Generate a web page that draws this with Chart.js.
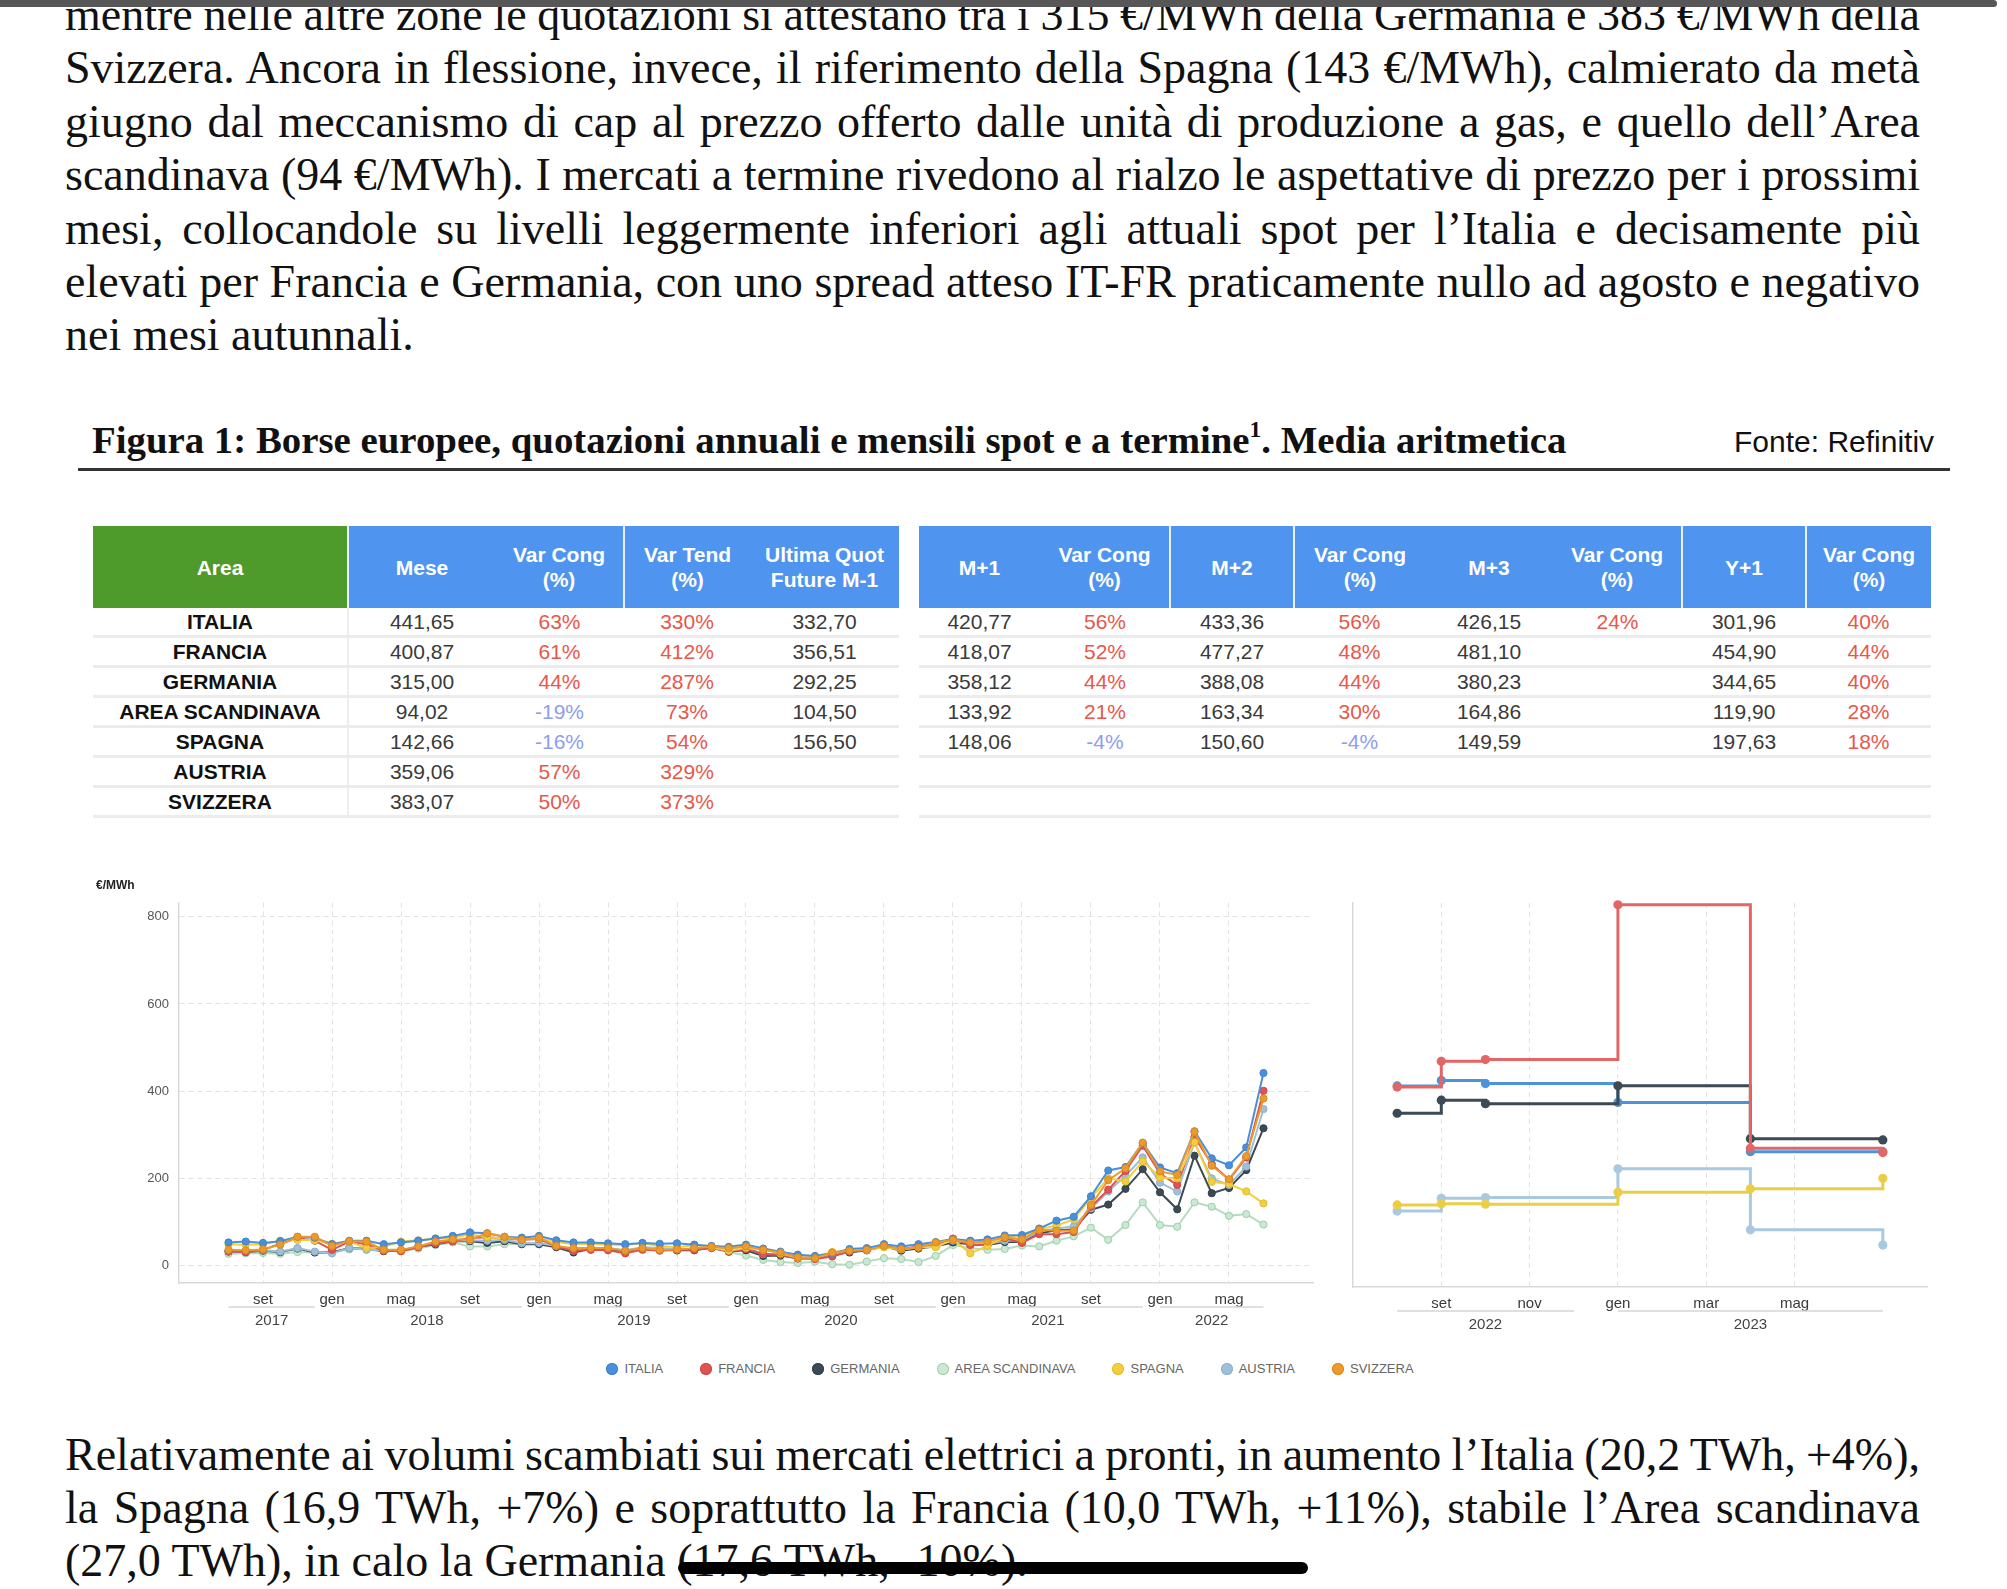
<!DOCTYPE html>
<html lang="it">
<head>
<meta charset="utf-8">
<title>Borse europee, quotazioni spot e a termine</title>
<script src="https://cdn.jsdelivr.net/npm/chart.js@4.4.1/dist/chart.umd.min.js"></script>
<style>
  html, body { margin: 0; padding: 0; background: #fff; }
  body { width: 2007px; height: 1589px; position: relative; overflow: hidden; font-family: "Liberation Sans", Arial, sans-serif; }
  .barra { position: absolute; left: 0; top: 0; width: 1997px; height: 7px; background: #575757; border-radius: 0 4px 4px 0; z-index: 2; }
  .riga { position: absolute; left: 65px; font-family: "Liberation Serif", "Times New Roman", serif; font-size: 46px; line-height: 53px; color: #111; white-space: nowrap; display: inline-block; }
  .titolo { position: absolute; left: 92px; top: 418px; font-family: "Liberation Serif", "Times New Roman", serif; font-weight: bold; font-size: 36px; line-height: 44px; color: #111; white-space: nowrap; }
  .titolo sup { font-size: 0.6em; line-height: 0; vertical-align: 0.7em; }
  .fonte { position: absolute; left: 1734px; top: 425px; font-size: 30px; line-height: 34px; color: #111; white-space: nowrap; letter-spacing: 0; }
  .linea { position: absolute; left: 78px; top: 468px; width: 1872px; height: 3px; background: #333; }
  table.tab { position: absolute; top: 526px; border-collapse: collapse; table-layout: fixed; font-size: 21px; }
  table.tab th { height: 82px; padding: 0; background: #4f94ef; color: #fff; font-weight: bold; line-height: 25px; text-align: center; vertical-align: middle; }
  table.tab th.verde { background: #4e9a2b; }
  table.tab th.sep { border-left: 2px solid #e8f0fb; }
  table.tab td { height: 27px; padding: 0; border-bottom: 3px solid #ececec; text-align: center; color: #3a3a3a; line-height: 27px; }
  table.tab td.area { font-weight: bold; color: #111; border-right: 2px solid #eeeeee; }
  .pos { color: #e8574a !important; }
  .neg { color: #8f9df0 !important; }
  canvas { position: absolute; }
  #legenda { position: absolute; top: 1359px; left: 0; width: 2020px; display: flex; justify-content: center; gap: 37px; font-size: 13px; color: #666; }
  #legenda span.voce { display: flex; align-items: center; gap: 6px; line-height: 20px; }
  #legenda i { display: inline-block; width: 12px; height: 12px; border-radius: 50%; }
  .nero { position: absolute; left: 678px; top: 1562px; width: 630px; height: 12px; background: #000; border-radius: 6px; }
</style>
</head>
<body>
<div class="barra"></div>
<div id="testo"></div>
<div class="titolo" id="titolo">Figura 1: Borse europee, quotazioni annuali e mensili spot e a termine<sup>1</sup>. Media aritmetica</div>
<div class="fonte">Fonte: Refinitiv</div>
<div class="linea"></div>
<div id="tabelle"></div>
<canvas id="graficoSpot" width="1240" height="470" style="left:90px;top:870px;"></canvas>
<canvas id="graficoTermine" width="595" height="470" style="left:1345px;top:870px;"></canvas>
<div id="legenda"></div>
<div class="nero"></div>

<script>
// testo della pagina
var righeSopra = [
  'mentre nelle altre zone le quotazioni si attestano tra i 315 €/MWh della Germania e 383 €/MWh della',
  'Svizzera. Ancora in flessione, invece, il riferimento della Spagna (143 €/MWh), calmierato da metà',
  'giugno dal meccanismo di cap al prezzo offerto dalle unità di produzione a gas, e quello dell’Area',
  'scandinava (94 €/MWh). I mercati a termine rivedono al rialzo le aspettative di prezzo per i prossimi',
  'mesi, collocandole su livelli leggermente inferiori agli attuali spot per l’Italia e decisamente più',
  'elevati per Francia e Germania, con uno spread atteso IT-FR praticamente nullo ad agosto e negativo',
  'nei mesi autunnali.'
];
var righeSotto = [
  'Relativamente ai volumi scambiati sui mercati elettrici a pronti, in aumento l’Italia (20,2 TWh, +4%),',
  'la Spagna (16,9 TWh, +7%) e soprattutto la Francia (10,0 TWh, +11%), stabile l’Area scandinava',
  '(27,0 TWh), in calo la Germania (17,6 TWh, -10%).'
];

// tabelle
var aree = ['ITALIA', 'FRANCIA', 'GERMANIA', 'AREA SCANDINAVA', 'SPAGNA', 'AUSTRIA', 'SVIZZERA'];
var mese = ['441,65', '400,87', '315,00', '94,02', '142,66', '359,06', '383,07'];
var varCong = ['63%', '61%', '44%', '-19%', '-16%', '57%', '50%'];
var varTend = ['330%', '412%', '287%', '73%', '54%', '329%', '373%'];
var ultimaQuot = ['332,70', '356,51', '292,25', '104,50', '156,50', '', ''];
var m1 = ['420,77', '418,07', '358,12', '133,92', '148,06'];
var m1Var = ['56%', '52%', '44%', '21%', '-4%'];
var m2 = ['433,36', '477,27', '388,08', '163,34', '150,60'];
var m2Var = ['56%', '48%', '44%', '30%', '-4%'];
var m3 = ['426,15', '481,10', '380,23', '164,86', '149,59'];
var m3Var = ['24%', '', '', '', ''];
var y1 = ['301,96', '454,90', '344,65', '119,90', '197,63'];
var y1Var = ['40%', '44%', '40%', '28%', '18%'];

// grafico spot mensile (€/MWh)
var mesiSpot = [
  '2017-07','2017-08','2017-09','2017-10','2017-11','2017-12',
  '2018-01','2018-02','2018-03','2018-04','2018-05','2018-06','2018-07','2018-08','2018-09','2018-10','2018-11','2018-12',
  '2019-01','2019-02','2019-03','2019-04','2019-05','2019-06','2019-07','2019-08','2019-09','2019-10','2019-11','2019-12',
  '2020-01','2020-02','2020-03','2020-04','2020-05','2020-06','2020-07','2020-08','2020-09','2020-10','2020-11','2020-12',
  '2021-01','2021-02','2021-03','2021-04','2021-05','2021-06','2021-07','2021-08','2021-09','2021-10','2021-11','2021-12',
  '2022-01','2022-02','2022-03','2022-04','2022-05','2022-06','2022-07'
];
var spotItalia = [53, 55, 52, 56, 66, 64,
  49, 57, 57, 49, 53, 57, 62, 68, 76, 74, 66, 64,
  68, 58, 53, 53, 51, 49, 52, 50, 51, 48, 45, 43,
  48, 39, 32, 25, 22, 28, 38, 40, 49, 44, 49, 54,
  61, 57, 60, 69, 70, 85, 103, 112, 159, 218, 226, 281,
  225, 212, 308, 246, 230, 271, 441.65];
var spotFrancia = [33, 31, 36, 50, 63, 57,
  36, 55, 49, 34, 33, 42, 51, 56, 63, 65, 62, 59,
  61, 44, 34, 36, 35, 28, 37, 34, 36, 36, 40, 33,
  38, 27, 25, 16, 15, 21, 32, 35, 45, 38, 44, 50,
  62, 47, 47, 63, 52, 72, 72, 77, 135, 174, 217, 275,
  211, 185, 295, 233, 197, 248, 400.87];
var spotGermania = [32, 31, 34, 31, 39, 30,
  30, 40, 38, 33, 34, 43, 49, 56, 56, 52, 56, 49,
  49, 42, 30, 38, 38, 33, 40, 38, 35, 35, 41, 32,
  35, 22, 23, 17, 18, 26, 30, 35, 44, 34, 39, 44,
  53, 49, 47, 54, 54, 74, 81, 83, 128, 140, 176, 221,
  168, 129, 252, 166, 178, 219, 315.00];
var spotScandinavia = [27, 28, 29, 27, 31, 30,
  31, 37, 41, 37, 33, 39, 47, 53, 44, 44, 49, 49,
  50, 44, 38, 39, 37, 29, 35, 36, 34, 38, 41, 31,
  23, 13, 8, 6, 9, 3, 2, 9, 17, 15, 8, 22,
  47, 40, 36, 38, 46, 44, 57, 67, 87, 59, 93, 145,
  93, 89, 145, 135, 114, 118, 94.02];
var spotSpagna = [49, 48, 49, 57, 59, 58,
  50, 55, 40, 43, 55, 58, 62, 64, 71, 65, 62, 62,
  62, 54, 49, 50, 48, 47, 51, 45, 42, 47, 42, 34,
  41, 36, 28, 18, 21, 31, 35, 36, 42, 37, 42, 42,
  60, 28, 45, 65, 67, 83, 92, 106, 156, 200, 193, 239,
  202, 200, 283, 192, 187, 170, 142.66];
var spotAustria = [33, 32, 35, 32, 40, 32,
  28, 40, 36, 35, 35, 44, 51, 57, 58, 57, 59, 51,
  52, 45, 34, 40, 40, 35, 42, 40, 38, 38, 44, 37,
  40, 26, 26, 18, 18, 27, 33, 37, 47, 38, 42, 47,
  57, 51, 50, 57, 58, 78, 85, 90, 131, 170, 206, 248,
  190, 170, 282, 200, 185, 227, 359.06];
var spotSvizzera = [36, 35, 37, 48, 66, 66,
  45, 56, 55, 36, 36, 44, 55, 60, 60, 74, 66, 59,
  64, 45, 40, 40, 40, 34, 40, 36, 37, 40, 43, 40,
  44, 36, 30, 19, 17, 30, 34, 36, 45, 38, 41, 53,
  59, 53, 55, 65, 60, 82, 80, 80, 139, 196, 223, 282,
  216, 208, 307, 229, 198, 251, 383.07];

// grafico a termine (€/MWh)
var mesiTermine = ['2022-08', '2022-09', '2022-10', '2023-01', '2023-04', '2023-07'];
var termItalia = [420.77, 433.36, 426.15, 383, 270, 270];
var termFrancia = [418.07, 477.27, 481.10, 836, 278, 268];
var termGermania = [358.12, 388.08, 380.23, 421, 300, 297];
var termScandinavia = [133.92, 163.34, 164.86, 231, 91, 56];
var termSpagna = [148.06, 150.60, 149.59, 177, 185, 209];

// assi
var nomiMesi = ['gen', 'feb', 'mar', 'apr', 'mag', 'giu', 'lug', 'ago', 'set', 'ott', 'nov', 'dic'];
var tickSpot = ['2017-09','2018-01','2018-05','2018-09','2019-01','2019-05','2019-09','2020-01','2020-05','2020-09',
  '2021-01','2021-05','2021-09','2022-01','2022-05'];
var tickTermine = ['2022-09', '2022-11', '2023-01', '2023-03', '2023-05'];
var tickY = [0, 200, 400, 600, 800];
var anniSpot = [2017, 2018, 2019, 2020, 2021, 2022];
var anniTermine = [2022, 2023];

// legenda
var serie = ['ITALIA', 'FRANCIA', 'GERMANIA', 'AREA SCANDINAVA', 'SPAGNA', 'AUSTRIA', 'SVIZZERA'];
var colori = ['#4a8fdb', '#e05353', '#3b4a55', '#cbe8d2', '#f1cf3f', '#9fc0d9', '#ec9a2c'];
var bordi = ['#3f83cf', '#d34747', '#33414b', '#9ccfa9', '#e2bd2c', '#8db1cc', '#d98a20'];

function meseIdx(s) {
  var p = s.split('-');
  return (Number(p[0]) - 2017) * 12 + Number(p[1]) - 1;
}

// --- testo
var testo = document.getElementById('testo');
function scriviRighe(righe, primaBase, passo) {
  righe.forEach(function (r, i) {
    var el = document.createElement('span');
    el.className = 'riga';
    el.textContent = r;
    el.style.top = (primaBase + i * passo - 42) + 'px';
    testo.appendChild(el);
    if (i < righe.length - 1) {
      var w = el.getBoundingClientRect().width;
      var spazi = r.split(' ').length - 1;
      el.style.wordSpacing = ((1855 - w) / spazi) + 'px';
    }
  });
}
scriviRighe(righeSopra, 30, 53.4);
scriviRighe(righeSotto, 1470, 53);

var tit = document.getElementById('titolo');
tit.style.fontSize = (36 * 1475 / tit.getBoundingClientRect().width) + 'px';

// --- tabelle
function cellaVar(v) {
  if (!v) return '<td></td>';
  return '<td class="' + (v.charAt(0) === '-' ? 'neg' : 'pos') + '">' + v + '</td>';
}
var h = '<table class="tab" style="left:93px;width:806px">' +
  '<colgroup><col style="width:255px"><col style="width:147px"><col style="width:129px"><col style="width:126px"><col style="width:149px"></colgroup>' +
  '<tr><th class="verde">Area</th><th class="sep">Mese</th><th>Var Cong<br>(%)</th><th class="sep">Var Tend<br>(%)</th><th>Ultima Quot<br>Future M-1</th></tr>';
aree.forEach(function (a, i) {
  h += '<tr><td class="area">' + a + '</td><td>' + mese[i] + '</td>' + cellaVar(varCong[i]) + cellaVar(varTend[i]) + '<td>' + ultimaQuot[i] + '</td></tr>';
});
h += '</table>';
h += '<table class="tab" style="left:919px;width:1012px">' +
  '<colgroup><col style="width:121px"><col style="width:130px"><col style="width:124px"><col style="width:131px"><col style="width:128px"><col style="width:129px"><col style="width:124px"><col style="width:125px"></colgroup>' +
  '<tr><th>M+1</th><th>Var Cong<br>(%)</th><th class="sep">M+2</th><th class="sep">Var Cong<br>(%)</th><th>M+3</th><th>Var Cong<br>(%)</th><th class="sep">Y+1</th><th class="sep">Var Cong<br>(%)</th></tr>';
for (var i = 0; i < aree.length; i++) {
  if (i < m1.length) {
    h += '<tr><td>' + m1[i] + '</td>' + cellaVar(m1Var[i]) + '<td>' + m2[i] + '</td>' + cellaVar(m2Var[i]) +
      '<td>' + m3[i] + '</td>' + cellaVar(m3Var[i]) + '<td>' + y1[i] + '</td>' + cellaVar(y1Var[i]) + '</tr>';
  } else {
    h += '<tr><td></td><td></td><td></td><td></td><td></td><td></td><td></td><td></td></tr>';
  }
}
h += '</table>';
document.getElementById('tabelle').innerHTML = h;

// --- legenda
var leg = '';
serie.forEach(function (s, i) {
  leg += '<span class="voce"><i style="background:' + colori[i] + ';box-shadow:0 0 0 1px ' + bordi[i] + ' inset"></i>' + s + '</span>';
});
document.getElementById('legenda').innerHTML = leg;

// --- grafici
function punti(mesi, valori) {
  return valori.map(function (v, i) { return { x: meseIdx(mesi[i]), y: v }; });
}

function gruppiAnni(anni, mesi) {
  var lo = meseIdx(mesi[0]), hi = meseIdx(mesi[mesi.length - 1]);
  return {
    id: 'gruppiAnni',
    afterDraw: function (chart) {
      var xs = chart.scales.x, ctx = chart.ctx, y0 = chart.chartArea.bottom;
      ctx.save();
      anni.forEach(function (a) {
        var s = Math.max(meseIdx(a + '-01'), lo), e = Math.min(meseIdx(a + '-12'), hi);
        var x1 = xs.getPixelForValue(s), x2 = xs.getPixelForValue(e);
        ctx.strokeStyle = '#d4d4d4';
        ctx.lineWidth = 1.5;
        ctx.beginPath();
        ctx.moveTo(x1, y0 + 24);
        ctx.lineTo(x2, y0 + 24);
        ctx.stroke();
        ctx.fillStyle = '#444';
        ctx.font = '15px "Liberation Sans", Arial, sans-serif';
        ctx.textAlign = 'center';
        ctx.textBaseline = 'middle';
        ctx.fillText(String(a), (x1 + x2) / 2, y0 + 38);
      });
      ctx.restore();
    }
  };
}

function assi(opz) {
  return {
    x: {
      type: 'linear', min: opz.xmin, max: opz.xmax,
      afterBuildTicks: function (s) { s.ticks = opz.tick.map(function (t) { return { value: meseIdx(t) }; }); },
      ticks: {
        autoSkip: false, maxRotation: 0, padding: 8, color: '#3a3a3a', font: { size: 15 },
        callback: function (v) { return nomiMesi[((v % 12) + 12) % 12]; }
      },
      grid: { color: '#e3e3e3', lineWidth: 1, drawTicks: false },
      border: { color: '#d9d9d9', width: 1.5, dash: [5, 4] },
      afterFit: function (s) { s.height = opz.altezzaX; }
    },
    y: {
      min: -40, max: opz.ymax,
      afterBuildTicks: function (s) { s.ticks = tickY.map(function (v) { return { value: v }; }); },
      ticks: { display: opz.etichetteY, padding: 10, color: '#555', font: { size: 13 } },
      grid: { display: opz.griglia, color: '#e3e3e3', lineWidth: 1, drawTicks: false },
      border: { color: '#d9d9d9', width: 1.5, dash: [5, 4] },
      afterFit: function (s) { s.width = opz.larghezzaY; }
    }
  };
}

var spotValori = [spotItalia, spotFrancia, spotGermania, spotScandinavia, spotSpagna, spotAustria, spotSvizzera];
var ordineSpot = [2, 4, 6, 7, 3, 5, 1];

new Chart(document.getElementById('graficoSpot'), {
  type: 'line',
  data: {
    datasets: serie.map(function (s, i) {
      return {
        label: s,
        data: punti(mesiSpot, spotValori[i]),
        order: ordineSpot[i],
        borderColor: i === 3 ? '#b5dcbf' : colori[i],
        backgroundColor: colori[i],
        borderWidth: 2,
        pointRadius: 3.6,
        pointBorderWidth: 1,
        pointBackgroundColor: colori[i],
        pointBorderColor: bordi[i],
        tension: 0
      };
    })
  },
  options: {
    responsive: false,
    animation: false,
    layout: { padding: { left: 6, right: 17, top: 0, bottom: 0 } },
    plugins: {
      legend: { display: false },
      tooltip: { enabled: false },
      title: { display: true, text: '€/MWh', align: 'start', color: '#222', font: { size: 12, weight: 'bold' }, padding: { top: 8, bottom: 10 } }
    },
    scales: assi({ xmin: 3.13, xmax: 68.87, tick: tickSpot, altezzaX: 57, ymax: 833, etichetteY: true, griglia: true, larghezzaY: 83 })
  },
  plugins: [gruppiAnni(anniSpot, mesiSpot)]
});

var termSerie = ['ITALIA', 'FRANCIA', 'GERMANIA', 'AREA SCANDINAVA', 'SPAGNA'];
var termValori = [termItalia, termFrancia, termGermania, termScandinavia, termSpagna];
var termColori = ['#4d93dc', '#e26666', '#3b4a55', '#a9c9e0', '#ecce45'];
var ordineTermine = [3, 1, 2, 5, 4];

new Chart(document.getElementById('graficoTermine'), {
  type: 'line',
  data: {
    datasets: termSerie.map(function (s, i) {
      return {
        label: s,
        data: punti(mesiTermine, termValori[i]),
        order: ordineTermine[i],
        stepped: 'before',
        borderColor: termColori[i],
        backgroundColor: termColori[i],
        borderWidth: 3,
        pointRadius: 4.6,
        pointBorderWidth: 0,
        pointBackgroundColor: termColori[i]
      };
    })
  },
  options: {
    responsive: false,
    animation: false,
    clip: false,
    layout: { padding: { left: 8, right: 13, top: 33, bottom: 0 } },
    plugins: { legend: { display: false }, tooltip: { enabled: false } },
    scales: assi({ xmin: 66, xmax: 79, tick: tickTermine, altezzaX: 53, ymax: 840, etichetteY: false, griglia: false, larghezzaY: 0 })
  },
  plugins: [gruppiAnni(anniTermine, mesiTermine)]
});
</script>
</body>
</html>
